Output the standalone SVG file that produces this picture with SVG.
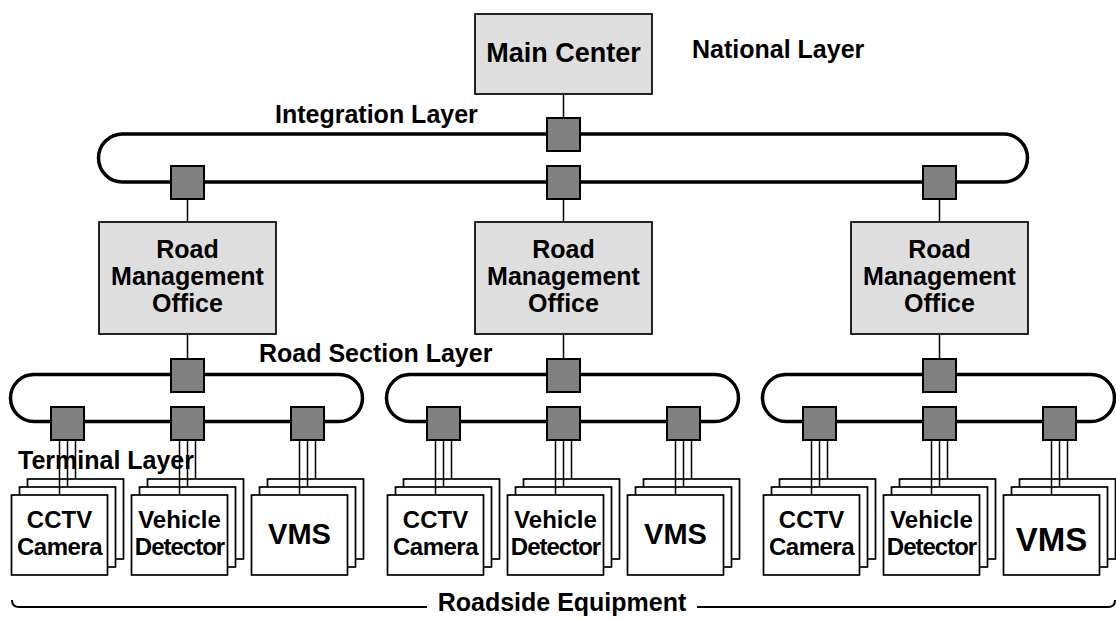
<svg xmlns="http://www.w3.org/2000/svg" width="1116" height="619" viewBox="0 0 1116 619">
<style>
.bg{fill:#ffffff}
.ring{fill:none;stroke:#000;stroke-width:3.5}
.sq{fill:#808080;stroke:#000;stroke-width:2}
.gbox{fill:#dedede;stroke:#000;stroke-width:1.7}
.wbox{fill:#fff;stroke:#000;stroke-width:1.7}
.ln{fill:none;stroke:#000;stroke-width:1.5}
.br{fill:none;stroke:#000;stroke-width:2}
text{font-family:"Liberation Sans",Arial,Helvetica,sans-serif;font-weight:bold;fill:#000}
.c{text-anchor:middle}
.lbl{font-size:25px}
.node{font-size:25px}
.term{font-size:24px}
</style>
<rect class="bg" x="0" y="0" width="1116" height="619"/>

<g id="connectors">
  <path class="ring" d="M122.5 134 H1003.5 A24 24 0 0 1 1003.5 182 H122.5 A24 24 0 0 1 122.5 134 Z"/>
  <path class="ring" d="M34 374.5 H339 A23.5 23.5 0 0 1 339 421.5 H34 A23.5 23.5 0 0 1 34 374.5 Z"/>
  <path class="ring" d="M410 374.5 H715 A23.5 23.5 0 0 1 715 421.5 H410 A23.5 23.5 0 0 1 410 374.5 Z"/>
  <path class="ring" d="M786 374.5 H1091 A23.5 23.5 0 0 1 1091 421.5 H786 A23.5 23.5 0 0 1 786 374.5 Z"/>
  <path class="ln" d="M563.5 94 V118 M187.5 199 V222 M563.5 199 V222 M939.5 199 V222 M187.5 334 V359 M563.5 334 V359 M939.5 334 V359"/>
  <path class="br" d="M12 600 Q12 607 19 607 H427 M697 607 H1108 Q1115 607 1115 600"/>
</g>

<g id="main-center">
  <rect class="gbox" x="475" y="14" width="177" height="80"/>
  <text class="c" x="563.5" y="62" font-size="27">Main Center</text>
</g>
<g id="national-layer"><text class="lbl" x="692" y="58">National Layer</text></g>
<g id="integration-layer"><text class="lbl" x="275" y="123">Integration Layer</text></g>
<g id="road-section-layer"><text class="lbl" x="259" y="362">Road Section Layer</text></g>

<g id="int-hubs">
  <rect class="sq" x="547" y="118" width="33" height="33"/>
  <rect class="sq" x="171" y="166" width="33" height="33"/>
  <rect class="sq" x="547" y="166" width="33" height="33"/>
  <rect class="sq" x="923" y="166" width="33" height="33"/>
</g>

<g id="rmo-1">
  <rect class="gbox" x="99" y="222" width="177" height="112"/>
  <text class="c node" x="187.5" y="258">Road</text>
  <text class="c node" x="187.5" y="285">Management</text>
  <text class="c node" x="187.5" y="312">Office</text>
</g>
<g id="rmo-2">
  <rect class="gbox" x="475" y="222" width="177" height="112"/>
  <text class="c node" x="563.5" y="258">Road</text>
  <text class="c node" x="563.5" y="285">Management</text>
  <text class="c node" x="563.5" y="312">Office</text>
</g>
<g id="rmo-3">
  <rect class="gbox" x="851" y="222" width="177" height="112"/>
  <text class="c node" x="939.5" y="258">Road</text>
  <text class="c node" x="939.5" y="285">Management</text>
  <text class="c node" x="939.5" y="312">Office</text>
</g>

<g id="section-hubs">
  <rect class="sq" x="171" y="359" width="33" height="33"/>
  <rect class="sq" x="547" y="359" width="33" height="33"/>
  <rect class="sq" x="923" y="359" width="33" height="33"/>
  <rect class="sq" x="51" y="407" width="33" height="33"/>
  <rect class="sq" x="171" y="407" width="33" height="33"/>
  <rect class="sq" x="291" y="407" width="33" height="33"/>
  <rect class="sq" x="427" y="407" width="33" height="33"/>
  <rect class="sq" x="547" y="407" width="33" height="33"/>
  <rect class="sq" x="667" y="407" width="33" height="33"/>
  <rect class="sq" x="803" y="407" width="33" height="33"/>
  <rect class="sq" x="923" y="407" width="33" height="33"/>
  <rect class="sq" x="1043" y="407" width="33" height="33"/>
</g>

<defs>
  <g id="stack">
    <rect class="wbox" x="-40" y="479" width="96" height="80"/>
    <rect class="wbox" x="-48" y="487" width="96" height="80"/>
    <rect class="wbox" x="-56" y="495" width="96" height="80"/>
    <path class="ln" d="M-8 440 V495 M0 440 V487 M8 440 V479"/>
  </g>
</defs>

<g id="terminal-layer"><text class="lbl" x="18" y="469">Terminal Layer</text></g>

<g id="cctv-1"><use href="#stack" x="67.5"/><text class="c term" x="59.5" y="528">CCTV</text><text class="c term" x="59.5" y="555" letter-spacing="-0.5">Camera</text></g>
<g id="vd-1"><use href="#stack" x="187.5"/><text class="c term" x="179.5" y="528">Vehicle</text><text class="c term" x="179.5" y="555" letter-spacing="-1">Detector</text></g>
<g id="vms-1"><use href="#stack" x="307.5"/><text class="c" x="299.5" y="544" font-size="29">VMS</text></g>

<g id="cctv-2"><use href="#stack" x="443.5"/><text class="c term" x="435.5" y="528">CCTV</text><text class="c term" x="435.5" y="555" letter-spacing="-0.5">Camera</text></g>
<g id="vd-2"><use href="#stack" x="563.5"/><text class="c term" x="555.5" y="528">Vehicle</text><text class="c term" x="555.5" y="555" letter-spacing="-1">Detector</text></g>
<g id="vms-2"><use href="#stack" x="683.5"/><text class="c" x="675.5" y="544" font-size="29">VMS</text></g>

<g id="cctv-3"><use href="#stack" x="819.5"/><text class="c term" x="811.5" y="528">CCTV</text><text class="c term" x="811.5" y="555" letter-spacing="-0.5">Camera</text></g>
<g id="vd-3"><use href="#stack" x="939.5"/><text class="c term" x="931.5" y="528">Vehicle</text><text class="c term" x="931.5" y="555" letter-spacing="-1">Detector</text></g>
<g id="vms-3"><use href="#stack" x="1059.5"/><text class="c" x="1051.5" y="551" font-size="33">VMS</text></g>

<g id="roadside-equipment"><text class="c" x="562" y="611" font-size="25">Roadside Equipment</text></g>
</svg>
